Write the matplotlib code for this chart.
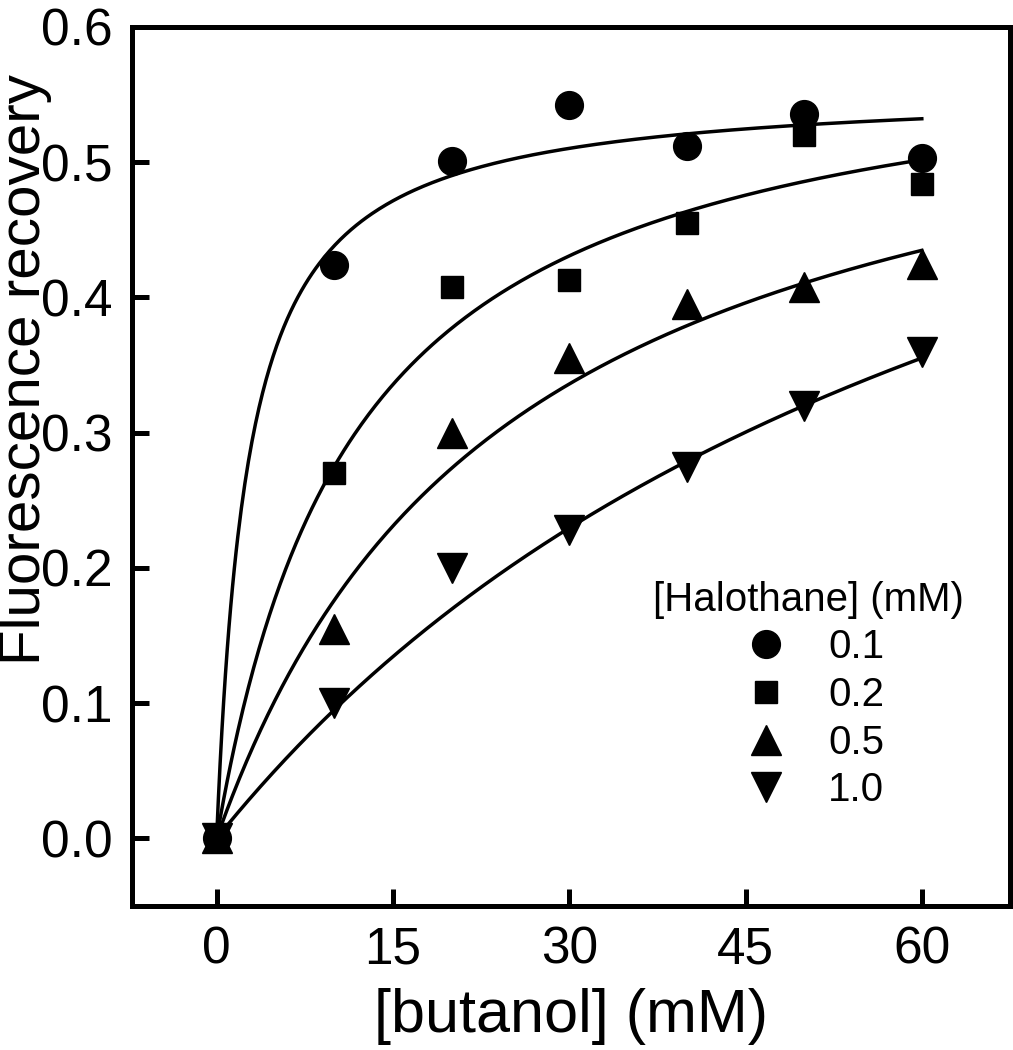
import numpy as np
import matplotlib.pyplot as plt

plt.rcParams['font.family'] = ['Liberation Sans', 'DejaVu Sans']

# butanol concentration (mM)
butanol = [0, 10, 20, 30, 40, 50, 60]

# fluorescence recovery per halothane concentration
rec_01 = [0.0, 0.424, 0.501, 0.542, 0.512, 0.536, 0.503]
rec_02 = [0.0, 0.270, 0.408, 0.413, 0.455, 0.520, 0.484]
rec_05 = [0.0, 0.155, 0.300, 0.355, 0.395, 0.408, 0.425]
rec_10 = [0.0, 0.100, 0.200, 0.228, 0.275, 0.320, 0.360]

halothane_labels = ['0.1', '0.2', '0.5', '1.0']
# hyperbolic fit parameters: y = Bmax*x/(K+x)
fit_bmax = [0.556, 0.601, 0.616, 0.785]
fit_k = [2.69, 11.86, 25.0, 72.6]

fig = plt.figure(figsize=(10.13, 10.5), dpi=100)
ax = fig.add_axes([0.1303, 0.1371, 0.8667, 0.8372])

series = [rec_01, rec_02, rec_05, rec_10]
markers = ['o', 's', '^', 'v']
msizes = [20, 16, 22, 22]

xfit = np.linspace(0, 60, 400)
handles = []
for ys, m, ms, lab, b, k in zip(series, markers, msizes, halothane_labels, fit_bmax, fit_k):
    ax.plot(xfit, b * xfit / (k + xfit), color='black', lw=2.5, zorder=2)
    h, = ax.plot(butanol, ys, linestyle='none', marker=m, markersize=ms,
                 color='black', zorder=3, label=lab)
    handles.append(h)

ax.set_xlim(-7.2, 67.5)
ax.set_ylim(-0.05, 0.6)
ax.set_xticks([0, 15, 30, 45, 60])
ax.set_yticks([0.0, 0.1, 0.2, 0.3, 0.4, 0.5, 0.6])
ax.set_yticklabels(['0.0', '0.1', '0.2', '0.3', '0.4', '0.5', '0.6'])
ax.tick_params(axis='both', direction='in', length=12, width=3.6,
               labelsize=37, pad=14)
for sp in ax.spines.values():
    sp.set_linewidth(3.6)

ax.set_xlabel('[butanol] (mM)', fontsize=44, labelpad=10)
ax.set_ylabel('Fluorescence recovery', fontsize=42)
ax.yaxis.set_label_coords(-0.091, 0.61)

leg = ax.legend(handles=handles, title='[Halothane] (mM)', fontsize=29,
                title_fontsize=29, frameon=False, loc='center',
                bbox_to_anchor=(0.77, 0.24), handlelength=1.7,
                handletextpad=0.7, labelspacing=0.24, borderpad=0)

fig.savefig('out.png', dpi=100)
